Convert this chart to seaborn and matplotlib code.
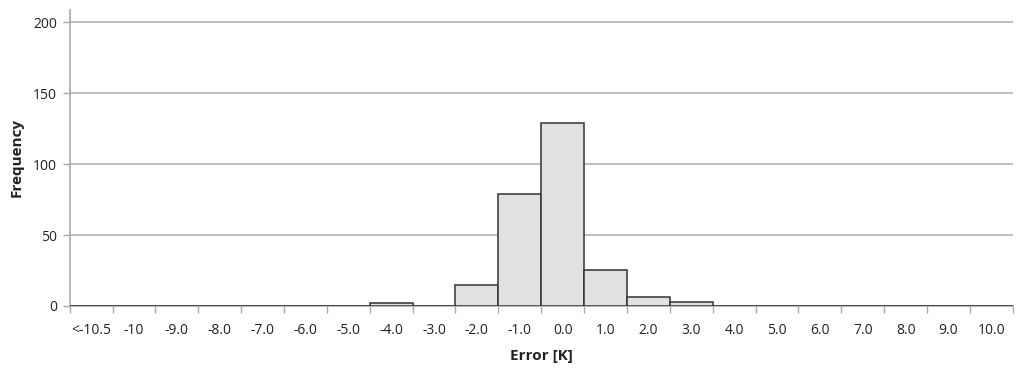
import matplotlib
matplotlib.use("Agg")
import matplotlib.pyplot as plt
import seaborn as sns
import pandas as pd
import numpy as np

categories = ["<-10.5", "-10", "-9.0", "-8.0", "-7.0", "-6.0", "-5.0", "-4.0", "-3.0",
              "-2.0", "-1.0", "0.0", "1.0", "2.0", "3.0", "4.0", "5.0", "6.0", "7.0",
              "8.0", "9.0", "10.0"]
frequency = [0, 0, 0, 0, 0, 0, 0, 2, 0, 15, 79, 129, 25, 6, 3, 0, 0, 0, 0, 0, 0, 0]
y_ticks = [0, 50, 100, 150, 200]

sns.set_theme(style="white")
plt.rcParams['font.family'] = ['Open Sans', 'DejaVu Sans']

fig = plt.figure(figsize=(10.24, 3.7), dpi=100)
ax = fig.add_axes([0.068, 0.173, 0.921, 0.80])

df = pd.DataFrame({"Error": categories, "Frequency": frequency})
sns.barplot(data=df, x="Error", y="Frequency", order=categories, width=1.0,
            color="#e1e1e1", edgecolor="#333333", linewidth=1.1, saturation=1, ax=ax, zorder=3)

n = len(categories)
ax.set_xlim(-0.5, n - 0.5)
ax.set_ylim(0, 208.5)
ax.set_yticks(y_ticks)
ax.yaxis.grid(True, color="#b3b3b3", linewidth=1.2, zorder=0)
ax.set_axisbelow(True)

ax.set_xticks(range(n))
ax.set_xticklabels(categories)
ax.set_xticks(np.arange(-0.5, n, 1.0), minor=True)
ax.tick_params(axis="x", which="major", length=0, pad=12, labelsize=10, colors="#222222")
ax.tick_params(axis="x", which="minor", length=5, width=1, color="#aaaaaa", direction="out", bottom=True)
ax.tick_params(axis="y", which="major", length=5, width=1, color="#aaaaaa", direction="out",
               left=True, labelsize=10, labelcolor="#222222", pad=4)

for s in ["top", "right"]:
    ax.spines[s].set_visible(False)
for s in ["left", "bottom"]:
    ax.spines[s].set_color("#aaaaaa")
    ax.spines[s].set_linewidth(1.2)

ax.set_xlabel("Error [K]", fontsize=11, fontweight="bold", color="#222222")
ax.xaxis.set_label_coords(0.5, -0.146)
ax.set_ylabel("Frequency", fontsize=11, fontweight="bold", color="#222222")
ax.yaxis.set_label_coords(-0.049, 0.5)

fig.savefig("out.png", dpi=100)
